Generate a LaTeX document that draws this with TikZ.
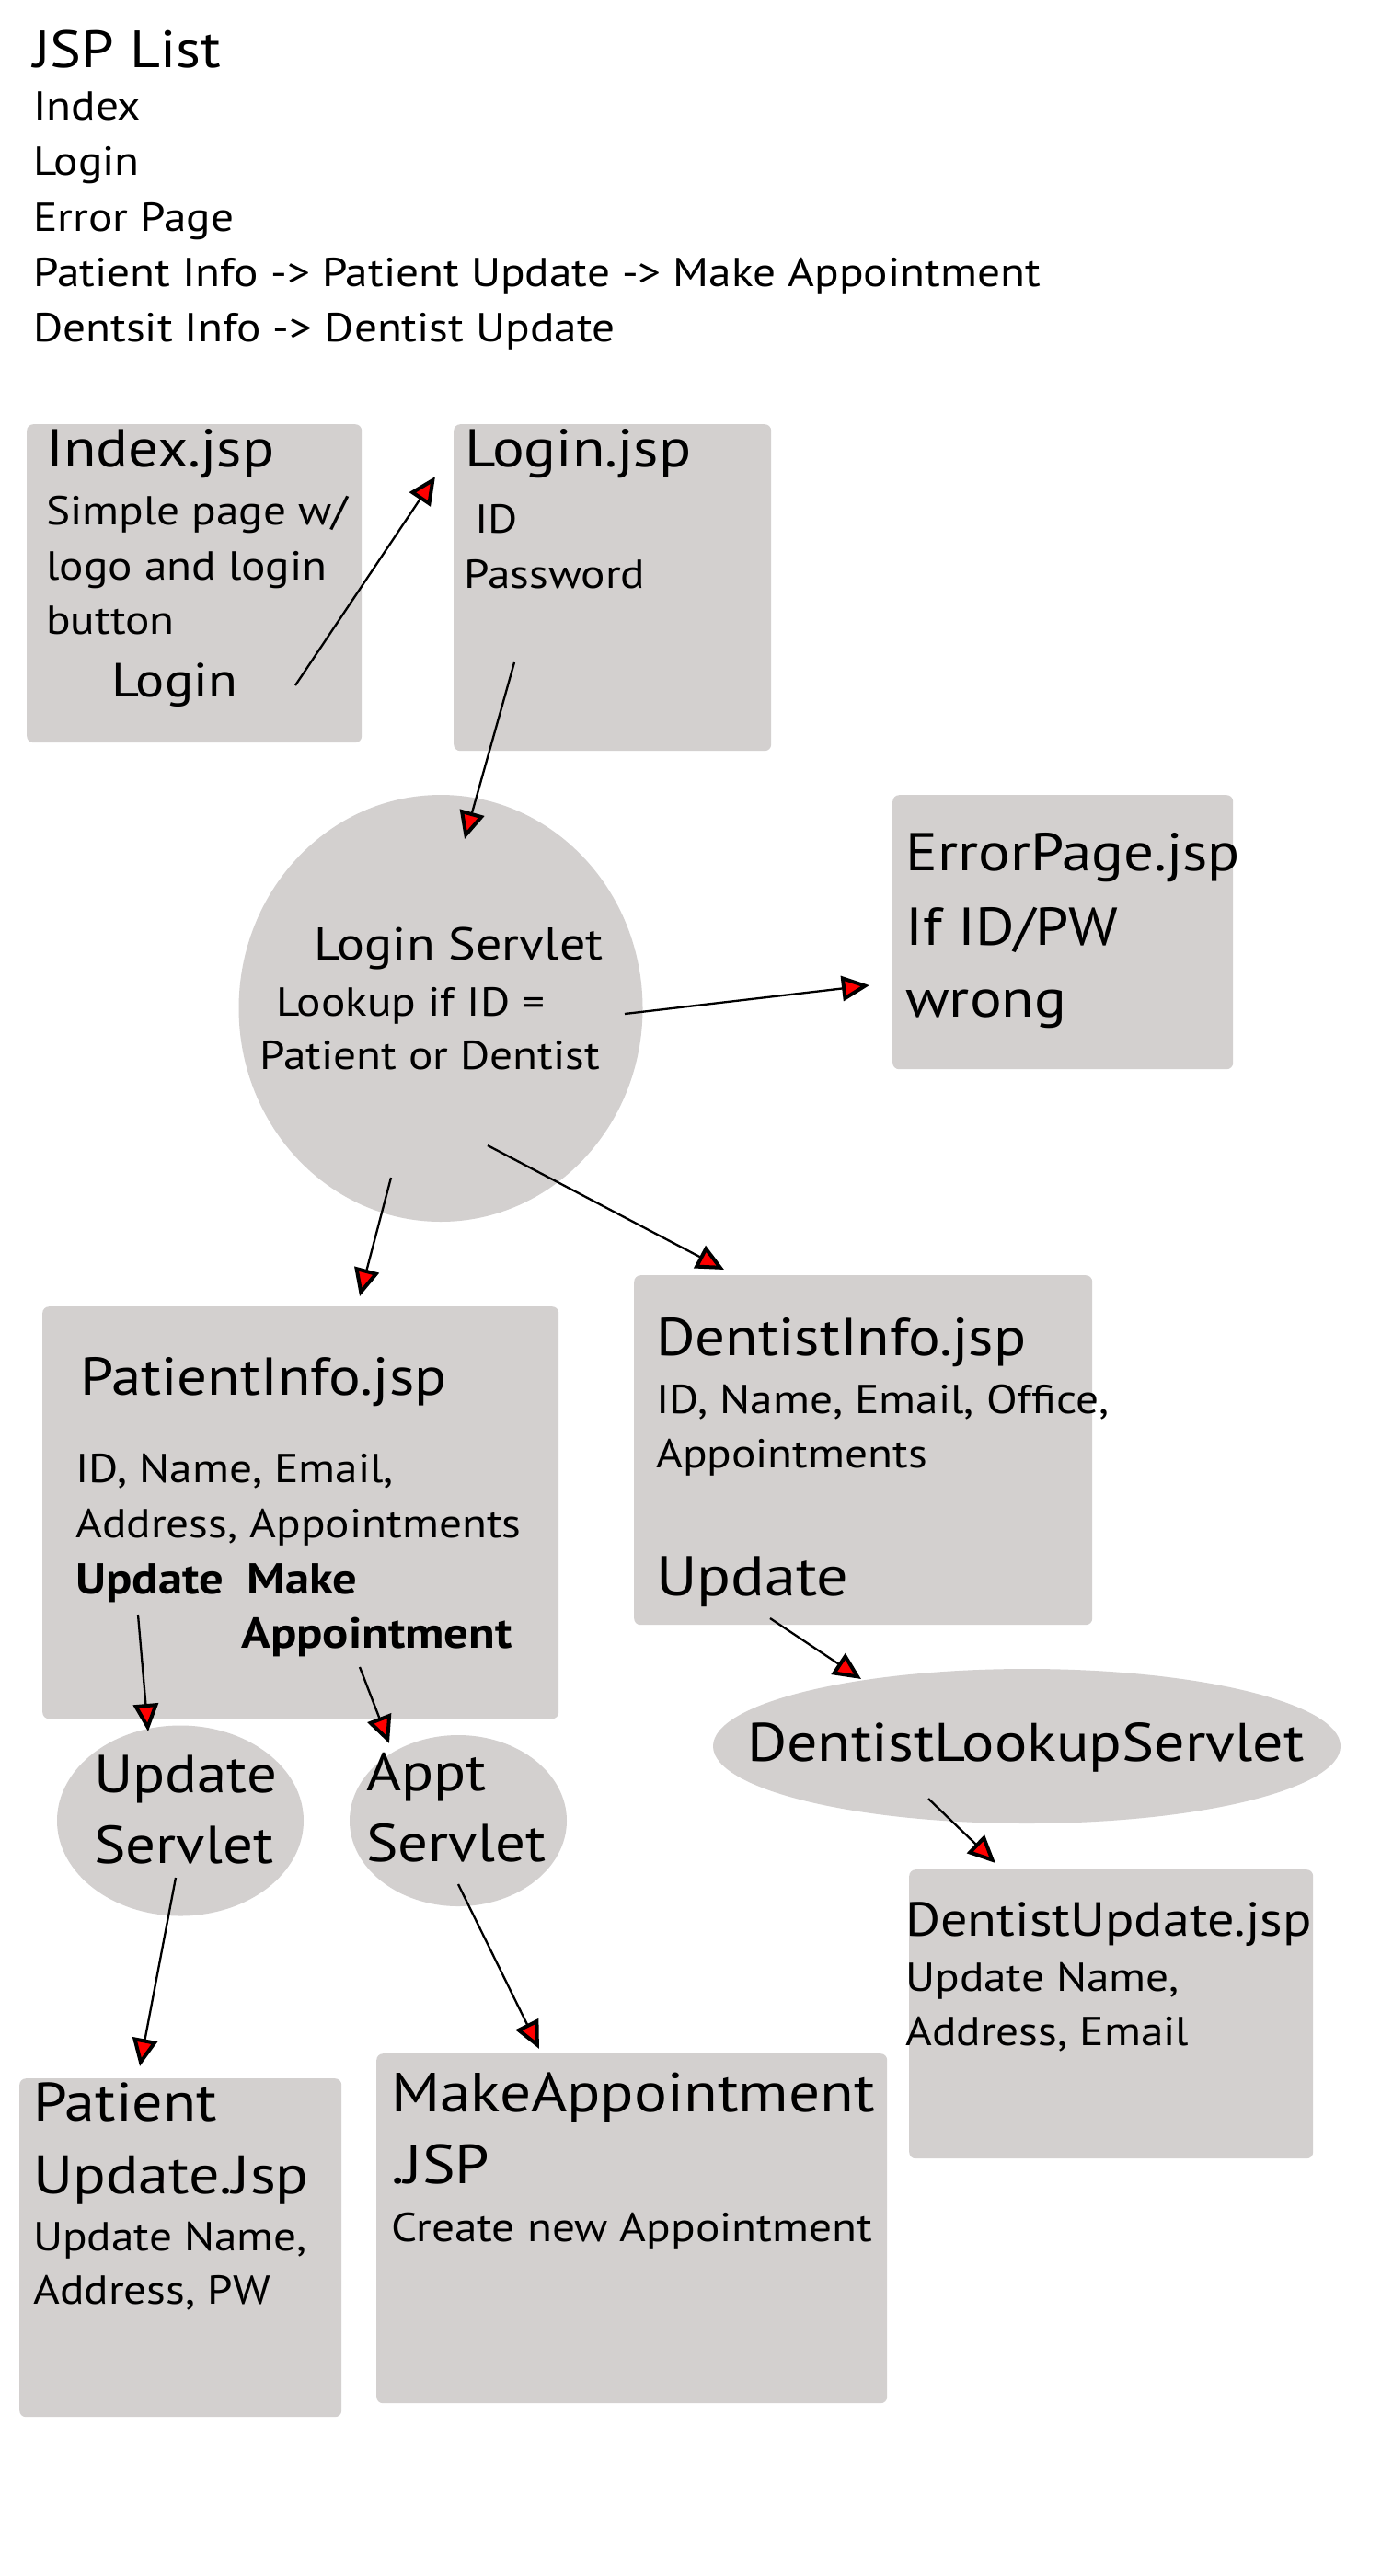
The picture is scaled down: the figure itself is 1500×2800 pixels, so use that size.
\documentclass[tikz,border=0pt]{standalone}
\usepackage{fontspec}
\setmainfont[FakeStretch=1.12]{PT Sans}
\usetikzlibrary{shapes.geometric,arrows.meta}
\definecolor{boxgray}{RGB}{211,208,207}
\newcommand\fsz[1]{\fontsize{#1}{#1}\selectfont}
\tikzset{
  box/.style={fill=boxgray, rounded corners=7pt, inner sep=0pt, anchor=north west, minimum width=#1},
  blob/.style={ellipse, fill=boxgray, inner sep=0pt},
  tsmall/.style={anchor=base west, inner sep=0pt, font=\fsz{44}},
  tbig/.style={anchor=base west, inner sep=0pt, font=\fsz{59}},
  tbold/.style={anchor=base west, inner sep=0pt, font=\fsz{47}\bfseries},
  ttitle/.style={anchor=base west, inner sep=0pt, font=\fsz{57}},
  link/.style={line width=2.3pt, -{Triangle[length=30pt,width=27pt,fill=red,line width=4pt]}}
}
\begin{document}
\begin{tikzpicture}[x=1pt,y=-1pt]
\useasboundingbox (0,0) rectangle (1500,2800);
% header list
\node[ttitle] (t0) at (36,73) {JSP List};
\node[tsmall] (t1) at (36,130) {Index};
\node[tsmall] (t2) at (36,190) {Login};
\node[tsmall] (t3) at (36,251) {Error Page};
\node[tsmall] (t4) at (36,311) {Patient Info -> Patient Update -> Make Appointment};
\node[tsmall] (t5) at (36,371) {Dentsit Info -> Dentist Update};

% boxes
\node[box=364pt, minimum height=346pt] (index) at (29,461) {};
\node[box=345pt, minimum height=355pt] (login) at (493,461) {};
\node[box=370pt, minimum height=298pt] (error) at (970,864) {};
\node[box=561pt, minimum height=448pt] (pinfo) at (46,1420) {};
\node[box=498pt, minimum height=380pt] (dinfo) at (689,1386) {};
\node[box=439pt, minimum height=314pt] (dupd) at (988,2032) {};
\node[box=350pt, minimum height=368pt] (pupd) at (21,2259) {};
\node[box=555pt, minimum height=380pt] (mkapp) at (409,2232) {};

% ellipses
\node[blob, minimum width=439pt, minimum height=464pt] (lserv) at (479,1096) {};
\node[blob, minimum width=268pt, minimum height=207pt] (userv) at (196,1979) {};
\node[blob, minimum width=236pt, minimum height=186pt] (aserv) at (498,1979) {};
\node[blob, minimum width=682pt, minimum height=168pt] (dlserv) at (1116,1898) {};

% Index.jsp texts
\node[tbig, font=\fsz{58}] (ia) at (50,507) {Index.jsp};
\node[tsmall] (ib) at (50,570) {Simple page w/};
\node[tsmall] (ic) at (50,630) {logo and login};
\node[tsmall] (id) at (50,689) {button};
\node[tbig, font=\fsz{52}] (ie) at (121,757) {Login};
% Login.jsp texts
\node[tbig, font=\fsz{58}] (la) at (505,507) {Login.jsp};
\node[tsmall] (lb) at (516,579) {ID};
\node[tsmall] (lc) at (504,639) {Password};
% Login servlet texts
\node[tsmall, font=\fsz{50}] (sa) at (341,1043) {Login Servlet};
\node[tsmall] (sb) at (300,1104) {Lookup if ID =};
\node[tsmall] (sc) at (282,1162) {Patient or Dentist};
% Error page
\node[tbig, font=\fsz{58}] (ea) at (984,946) {ErrorPage.jsp};
\node[tbig, font=\fsz{58}] (eb) at (984,1027) {If ID/PW};
\node[tbig, font=\fsz{58}] (ec) at (984,1105) {wrong};
% PatientInfo
\node[tbig, font=\fsz{58}] (pa) at (87,1516) {PatientInfo.jsp};
\node[tsmall] (pb) at (82,1611) {ID, Name, Email,};
\node[tsmall] (pc) at (82,1671) {Address, Appointments};
\node[tbold] (pd) at (82,1732) {Update};
\node[tbold] (pe) at (268,1732) {Make};
\node[tbold] (pf) at (262,1791) {Appointment};
% DentistInfo
\node[tbig, font=\fsz{58}] (da) at (713,1473) {DentistInfo.jsp};
\node[tsmall] (db) at (713,1536) {ID, Name, Email, Office,};
\node[tsmall] (dc) at (713,1595) {Appointments};
\node[tbig, font=\fsz{61}] (dd) at (713,1734) {Update};
% servlets
\node[tbig, font=\fsz{58}] (ua) at (102,1948) {Update};
\node[tbig, font=\fsz{58}] (ub) at (102,2025) {Servlet};
\node[tbig, font=\fsz{58}] (aa) at (398,1946) {Appt};
\node[tbig, font=\fsz{58}] (ab) at (398,2023) {Servlet};
\node[tbig] (dla) at (812,1914) {DentistLookupServlet};
% DentistUpdate
\node[tbig, font=\fsz{52}] (dua) at (984,2104) {DentistUpdate.jsp};
\node[tsmall] (dub) at (984,2164) {Update Name,};
\node[tsmall] (duc) at (984,2223) {Address, Email};
% Patient update
\node[tbig] (pua) at (36,2305) {Patient};
\node[tbig] (pub) at (36,2384) {Update.Jsp};
\node[tsmall] (puc) at (36,2446) {Update Name,};
\node[tsmall] (pud) at (36,2504) {Address, PW};
% MakeAppointment
\node[tbig, font=\fsz{60}] (ma) at (425,2295) {MakeAppointment};
\node[tbig, font=\fsz{60}] (mb) at (425,2373) {.JSP};
\node[tsmall] (mc) at (425,2436) {Create new Appointment};

% connector end points
\coordinate (c1s) at (321,745);  \coordinate (c1e) at (473,518);
\coordinate (c2s) at (559,720);  \coordinate (c2e) at (505,912);
\coordinate (c3s) at (679,1102); \coordinate (c3e) at (945,1071);
\coordinate (c4s) at (425,1280); \coordinate (c4e) at (391,1409);
\coordinate (c5s) at (530,1245); \coordinate (c5e) at (787,1380);
\coordinate (c6s) at (150,1755); \coordinate (c6e) at (161,1882);
\coordinate (c7s) at (391,1812); \coordinate (c7e) at (423,1895);
\coordinate (c8s) at (837,1759); \coordinate (c8e) at (936,1825);
\coordinate (c9s) at (191,2041); \coordinate (c9e) at (152,2246);
\coordinate (c10s) at (498,2048); \coordinate (c10e) at (586,2227);
\coordinate (c11s) at (1009,1955); \coordinate (c11e) at (1082,2025);

\draw[link] (c1s) -- (c1e);
\draw[link] (c2s) -- (c2e);
\draw[link] (c3s) -- (c3e);
\draw[link] (c4s) -- (c4e);
\draw[link] (c5s) -- (c5e);
\draw[link] (c6s) -- (c6e);
\draw[link] (c7s) -- (c7e);
\draw[link] (c8s) -- (c8e);
\draw[link] (c9s) -- (c9e);
\draw[link] (c10s) -- (c10e);
\draw[link] (c11s) -- (c11e);
\end{tikzpicture}
\end{document}
